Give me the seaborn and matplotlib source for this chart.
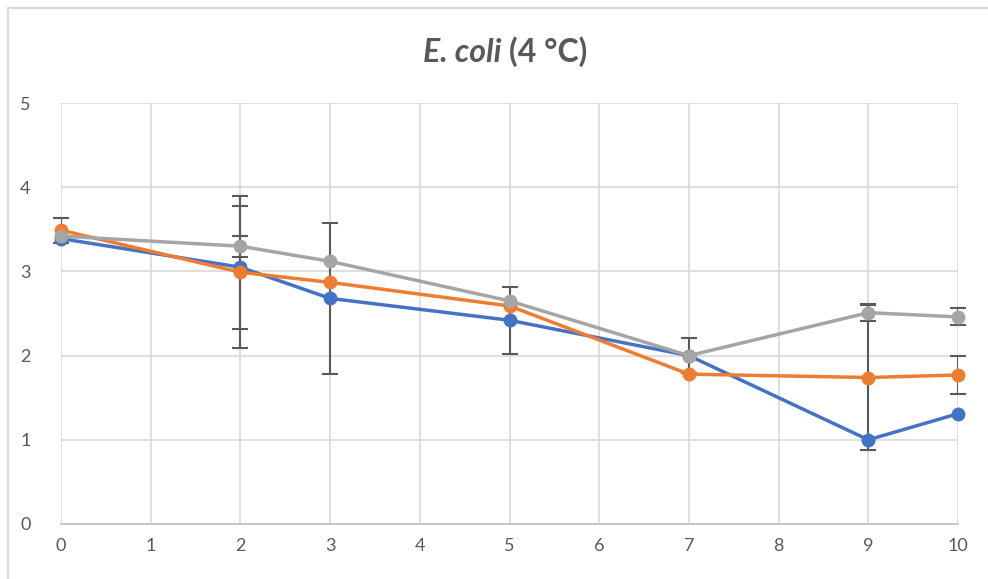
import matplotlib
matplotlib.use("Agg")
import matplotlib.pyplot as plt
from matplotlib.lines import Line2D
import seaborn as sns
import pandas as pd

days = [0, 2, 3, 5, 7, 9, 10]
blue_vals = [3.39, 3.05, 2.68, 2.42, 2.00, 1.00, 1.31]
orange_vals = [3.49, 2.99, 2.87, 2.59, 1.78, 1.74, 1.77]
gray_vals = [3.42, 3.30, 3.12, 2.65, 2.00, 2.51, 2.46]
blue_err = [0.0, 0.73, 0.90, 0.40, 0.0, 0.0, 0.0]
orange_err = [0.15, 0.905, 0.0, 0.0, 0.0, 0.86, 0.23]
gray_err = [0.0, 0.125, 0.0, 0.0, 0.21, 0.10, 0.10]
series_names = ["blue", "orange", "gray"]
colors = ["#4472C4", "#ED7D31", "#A5A5A5"]
x_ticks = list(range(0, 11))
y_ticks = [0, 1, 2, 3, 4, 5]

sns.set_theme(style="white")
plt.rcParams["font.family"] = ["Lato", "DejaVu Sans"]

rows = []
for name, vals in zip(series_names, [blue_vals, orange_vals, gray_vals]):
    for d, v in zip(days, vals):
        rows.append({"day": d, "value": v, "series": name})
df = pd.DataFrame(rows)

fig = plt.figure(figsize=(9.88, 5.79), dpi=100)
ax = fig.add_axes([0.0617, 0.095, 0.908, 0.727])

# error bars (behind markers)
for vals, errs in zip([blue_vals, orange_vals, gray_vals], [blue_err, orange_err, gray_err]):
    xs = [d for d, e in zip(days, errs) if e > 0]
    ys = [v for v, e in zip(vals, errs) if e > 0]
    es = [e for e in errs if e > 0]
    ax.errorbar(xs, ys, yerr=es, fmt="none", ecolor="#595959", elinewidth=1.5,
                capsize=6, capthick=1.5, zorder=2)

sns.lineplot(data=df, x="day", y="value", hue="series", palette=colors,
             hue_order=series_names, marker="o", markersize=10, markeredgewidth=0,
             linewidth=2.5, legend=False, ax=ax, zorder=3)
for ln in ax.lines:
    ln.set_clip_on(False)

ax.set_xlim(0, 10)
ax.set_ylim(0, 5)
ax.set_xticks(x_ticks)
ax.set_yticks(y_ticks)
ax.grid(True, color="#D9D9D9", linewidth=1.2)
for s in ["top", "right", "left"]:
    ax.spines[s].set_visible(False)
ax.spines["bottom"].set_color("#BFBFBF")
ax.spines["bottom"].set_linewidth(1.2)
ax.tick_params(axis="both", length=0, labelsize=13, labelcolor="#595959", pad=10)
ax.tick_params(axis="y", pad=22)
ax.set_xlabel("")
ax.set_ylabel("")

title_y = 0.91
t1 = fig.text(0.0, title_y, "E. coli", style="italic", fontweight="bold",
              fontsize=23, color="#595959", ha="left", va="center")
t2 = fig.text(0.0, title_y, "(4 °C)", fontweight="bold", fontsize=23,
              color="#595959", ha="left", va="center")
fig.canvas.draw()
w1 = t1.get_window_extent().width / fig.bbox.width
w2 = t2.get_window_extent().width / fig.bbox.width
gap = 0.007
start = 505 / 988 - (w1 + gap + w2) / 2
t1.set_x(start)
t2.set_x(start + w1 + gap)

fig.add_artist(Line2D([0.008, 1.0], [0.986, 0.986], color="#D9D9D9", linewidth=1.5))
fig.add_artist(Line2D([0.008, 0.008], [0.0, 0.986], color="#D9D9D9", linewidth=1.5))

fig.savefig("out.png", dpi=100, facecolor="white")
